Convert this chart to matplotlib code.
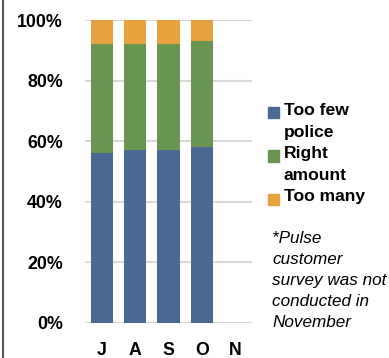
import matplotlib.pyplot as plt
from matplotlib.lines import Line2D
from matplotlib.patches import Rectangle

months = ['J', 'A', 'S', 'O', 'N']
too_few = [56, 57, 57, 58, 0]
right_amount = [36, 35, 35, 35, 0]
too_many = [8, 8, 8, 7, 0]

series_names = ['Too few\npolice', 'Right\namount', 'Too many']
colors = ['#4A6894', '#6A9550', '#E8A23D']
note = '*Pulse\ncustomer\nsurvey was not\nconducted in\nNovember'

plt.rcParams['font.family'] = ['Liberation Sans', 'DejaVu Sans']

fig = plt.figure(figsize=(3.89, 3.58), dpi=100)
ax = fig.add_axes([0.2185, 0.0978, 0.4293, 0.8463])

x = list(range(len(months)))
bottom = [0] * len(months)
for vals, c in zip([too_few, right_amount, too_many], colors):
    ax.bar(x, vals, width=0.66, bottom=bottom, color=c, zorder=2)
    bottom = [b + v for b, v in zip(bottom, vals)]

ax.set_xlim(-0.5, len(months) - 0.5)
ax.set_ylim(0, 100)
ax.set_yticks([0, 20, 40, 60, 80, 100])
ax.set_yticklabels([f'{v}%' for v in [0, 20, 40, 60, 80, 100]])
ax.set_xticks(x)
ax.set_xticklabels(months)
ax.tick_params(axis='both', length=0, labelsize=12.8)
ax.tick_params(axis='y', pad=16)
ax.tick_params(axis='x', pad=13.5)
for lab in ax.get_xticklabels() + ax.get_yticklabels():
    lab.set_fontweight('bold')
ax.grid(axis='y', color='#D9D9D9', linewidth=1.5, zorder=0)
for s in ax.spines.values():
    s.set_visible(False)

# legend drawn by hand so the swatch sits beside the first line of each label
legend_rows = [113, 156, 199]
for name, c, ypix in zip(series_names, colors, legend_rows):
    yf = 1 - ypix / 358
    fig.patches.append(Rectangle((268 / 389, yf - 5.5 / 358), 11 / 389, 11 / 358,
                                 transform=fig.transFigure, color=c))
    fig.text(284 / 389, yf + 10 / 358, name, fontsize=12.6, fontweight='bold',
             va='top', ha='left', linespacing=1.6)

fig.text(272 / 389, 1 - 231 / 358, note, fontsize=12.3, style='italic',
         va='top', ha='left', linespacing=1.5)

# left frame line
fig.add_artist(Line2D([2.5 / 389, 2.5 / 389], [0, 1], transform=fig.transFigure,
                      color='#555555', linewidth=1.5))

fig.savefig('out.png', dpi=100)
